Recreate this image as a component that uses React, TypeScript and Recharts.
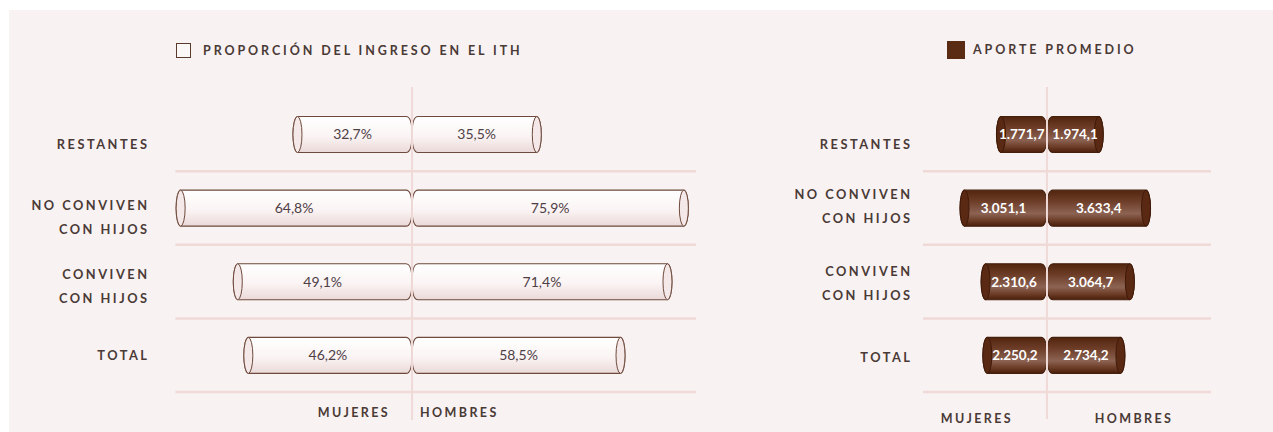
import { BarChart, Bar, XAxis, YAxis, CartesianGrid, ReferenceLine, LabelList } from 'recharts';

// categories (line breaks as in the printed labels)
const categories = ['RESTANTES', 'NO CONVIVEN\nCON HIJOS', 'CONVIVEN\nCON HIJOS', 'TOTAL'];

// proporción del ingreso en el ITH (%)
const mujeresShare = [32.7, 64.8, 49.1, 46.2];
const hombresShare = [35.5, 75.9, 71.4, 58.5];

// aporte promedio
const mujeresAporte = [1771.7, 3051.1, 2310.6, 2250.2];
const hombresAporte = [1974.1, 3633.4, 3064.7, 2734.2];

const genderLabels = ['MUJERES', 'HOMBRES'];
const legendTitles = ['PROPORCIÓN DEL INGRESO EN EL ITH', 'APORTE PROMEDIO'];

const FONT = 'Lato, "Open Sans", sans-serif';
const INK = '#4a3a36';
const BG = '#f9f2f2';
const RULE = '#efdad8';
const BROWN = '#5b2c14';

const CHART_H = 422;
const PLOT_TOP = 87.5;
const PLOT_BOTTOM = 382;
const BAND = (PLOT_BOTTOM - PLOT_TOP) / categories.length;
const AXIS_W = 150;

const fmtPct = (v: number) => Math.abs(v).toFixed(1).replace('.', ',') + '%';
const fmtNum = (v: number) => {
  const [i, d] = Math.abs(v).toFixed(1).split('.');
  return i.replace(/\B(?=(\d{3})+(?!\d))/g, '.') + ',' + d;
};

const shareRows = categories.map((cat, i) => ({ cat, m: -mujeresShare[i], h: hombresShare[i] }));
const aporteRows = categories.map((cat, i) => ({ cat, m: -mujeresAporte[i], h: hombresAporte[i] }));

// cylinder-ish bar: open ellipse on the outer end, rounded end where the two halves meet
function cylinder(dark: boolean, side: 'm' | 'h') {
  return (props: any) => {
    const { x, y, width, height } = props;
    if (!height || !width) return <g />;
    const x0 = Math.min(x, x + width);
    const x1 = Math.max(x, x + width);
    const top = y;
    const bot = y + height;
    const mid = y + height / 2;
    const ry = height / 2;
    const rx = 4.5;
    const rc = 6;
    const gid = dark ? 'cylDark' : 'cylLight';
    let d: string;
    let capX: number;
    if (side === 'm') {
      capX = x0 + rx;
      d = `M${capX},${top} L${x1 - rc},${top} Q${x1},${top} ${x1},${mid} Q${x1},${bot} ${x1 - rc},${bot} L${capX},${bot} A${rx},${ry} 0 0 1 ${capX},${top} Z`;
    } else {
      capX = x1 - rx;
      d = `M${capX},${top} L${x0 + rc},${top} Q${x0},${top} ${x0},${mid} Q${x0},${bot} ${x0 + rc},${bot} L${capX},${bot} A${rx},${ry} 0 0 0 ${capX},${top} Z`;
    }
    return (
      <g>
        <defs>
          <linearGradient id="cylLight" x1="0" y1="0" x2="0" y2="1">
            <stop offset="0" stopColor="#ffffff" />
            <stop offset="0.55" stopColor="#fbf4f4" />
            <stop offset="1" stopColor="#ead9d8" />
          </linearGradient>
          <linearGradient id="cylDark" x1="0" y1="0" x2="0" y2="1">
            <stop offset="0" stopColor="#52250f" />
            <stop offset="0.3" stopColor="#6c3c27" />
            <stop offset="0.65" stopColor="#8c6353" />
            <stop offset="0.85" stopColor="#6b3b25" />
            <stop offset="1" stopColor="#4a1f0b" />
          </linearGradient>
        </defs>
        <path d={d} fill={`url(#${gid})`} stroke={dark ? '#44200d' : '#6e4a3c'} strokeWidth={1.1} />
        <ellipse
          cx={capX}
          cy={mid}
          rx={rx}
          ry={ry}
          fill={dark ? '#5a2913' : '#f4e8e8'}
          stroke={dark ? '#3f1a08' : '#6e4a3c'}
          strokeWidth={1}
        />
      </g>
    );
  };
}

interface PanelProps {
  data: { cat: string; m: number; h: number }[];
  left: number;
  width: number;
  plotLeft: number;
  plotRight: number;
  domain: [number, number];
  labelRight: number;
  labelDy: number[];
  gender: { dx: number; anchor: 'start' | 'middle' | 'end' }[];
  genderY: number;
  centerBottom: number;
  dark: boolean;
  fmt: (v: number) => string;
}

function Panel(p: PanelProps) {
  const rules = categories.map((_, k) => PLOT_TOP + BAND * (k + 1));

  const catTick = (t: any) => {
    const value = String(t.payload.value);
    const idx = categories.indexOf(value);
    const lines = value.split('\n');
    const lh = 24;
    const y0 = t.y + (p.labelDy[idx] ?? 0) - ((lines.length - 1) * lh) / 2;
    return (
      <text
        textAnchor="end"
        fill={INK}
        fontFamily={FONT}
        fontWeight={700}
        fontSize={12.8}
        letterSpacing={2.5}
      >
        {lines.map((l, i) => (
          <tspan key={i} x={p.labelRight + 2.5} y={y0 + i * lh} dominantBaseline="central">
            {l}
          </tspan>
        ))}
      </text>
    );
  };

  const genderTick = (t: any) => (
    <g>
      {genderLabels.map((g, i) => (
        <text
          key={g}
          x={t.x + p.gender[i].dx}
          y={p.genderY}
          textAnchor={p.gender[i].anchor}
          dominantBaseline="central"
          fill={INK}
          fontFamily={FONT}
          fontWeight={700}
          fontSize={12.5}
          letterSpacing={2.4}
        >
          {g}
        </text>
      ))}
    </g>
  );

  const labelStyle = p.dark
    ? { fill: '#ffffff', fontWeight: 700, fontSize: 13.5 }
    : { fill: '#4f4046', fontWeight: 400, fontSize: 14 };

  return (
    <div style={{ position: 'absolute', left: p.left, top: 0 }}>
      <BarChart
        width={p.width}
        height={CHART_H}
        data={p.data}
        layout="vertical"
        stackOffset="sign"
        barSize={36}
        margin={{ top: PLOT_TOP, bottom: 10, left: p.plotLeft - AXIS_W, right: p.width - p.plotRight }}
      >
        <CartesianGrid vertical={false} horizontalPoints={rules} stroke={RULE} strokeWidth={2.5} />
        <XAxis
          type="number"
          domain={p.domain}
          ticks={[0]}
          interval={0}
          axisLine={false}
          tickLine={false}
          height={30}
          tick={genderTick}
        />
        <YAxis
          type="category"
          dataKey="cat"
          width={AXIS_W}
          interval={0}
          axisLine={false}
          tickLine={false}
          tick={catTick}
        />
        <ReferenceLine
          x={0}
          stroke={RULE}
          shape={(l: any) => (
            <line
              x1={l.x1}
              x2={l.x2}
              y1={Math.min(l.y1, l.y2) - 10.5}
              y2={p.centerBottom}
              stroke={RULE}
              strokeWidth={2}
            />
          )}
        />
        <Bar dataKey="m" stackId="s" shape={cylinder(p.dark, 'm')} isAnimationActive={false}>
          <LabelList
            dataKey="m"
            position="center"
            formatter={(v: any) => p.fmt(Number(v))}
            fontFamily={FONT}
            {...labelStyle}
          />
        </Bar>
        <Bar dataKey="h" stackId="s" shape={cylinder(p.dark, 'h')} isAnimationActive={false}>
          <LabelList
            dataKey="h"
            position="center"
            formatter={(v: any) => p.fmt(Number(v))}
            fontFamily={FONT}
            {...labelStyle}
          />
        </Bar>
      </BarChart>
    </div>
  );
}

const legendText = {
  position: 'absolute' as const,
  fontFamily: FONT,
  fontWeight: 700,
  fontSize: 12.5,
  letterSpacing: 2.9,
  color: INK,
  whiteSpace: 'nowrap' as const,
};

export default function App() {
  return (
    <div
      style={{
        position: 'fixed',
        left: 9,
        top: 10,
        width: 1264,
        height: 422,
        background: BG,
        overflow: 'hidden',
      }}
    >
      {/* legends */}
      <div
        style={{
          position: 'absolute',
          left: 167,
          top: 33,
          width: 13,
          height: 13,
          border: '1.5px solid #5a3a2a',
          background: '#fbf7f7',
        }}
      />
      <div style={{ ...legendText, left: 194, top: 33, lineHeight: '16px' }}>{legendTitles[0]}</div>
      <div style={{ position: 'absolute', left: 938, top: 31, width: 18, height: 18, background: BROWN }} />
      <div style={{ ...legendText, left: 964, top: 32, lineHeight: '16px' }}>{legendTitles[1]}</div>

      <Panel
        data={shareRows}
        left={0}
        width={700}
        plotLeft={166.4}
        plotRight={687}
        domain={[-65, 78]}
        labelRight={138}
        labelDy={[9.6, 9.5, 4.5, -0.6]}
        gender={[
          { dx: -22, anchor: 'end' },
          { dx: 8, anchor: 'start' },
        ]}
        genderY={402}
        centerBottom={410}
        dark={false}
        fmt={fmtPct}
      />
      <Panel
        data={aporteRows}
        left={751}
        width={513}
        plotLeft={163}
        plotRight={451}
        domain={[-4350, 5755]}
        labelRight={150}
        labelDy={[9.6, -2, 1.5, 1.4]}
        gender={[
          { dx: -70, anchor: 'middle' },
          { dx: 87, anchor: 'middle' },
        ]}
        genderY={408}
        centerBottom={409}
        dark={true}
        fmt={fmtNum}
      />
    </div>
  );
}
